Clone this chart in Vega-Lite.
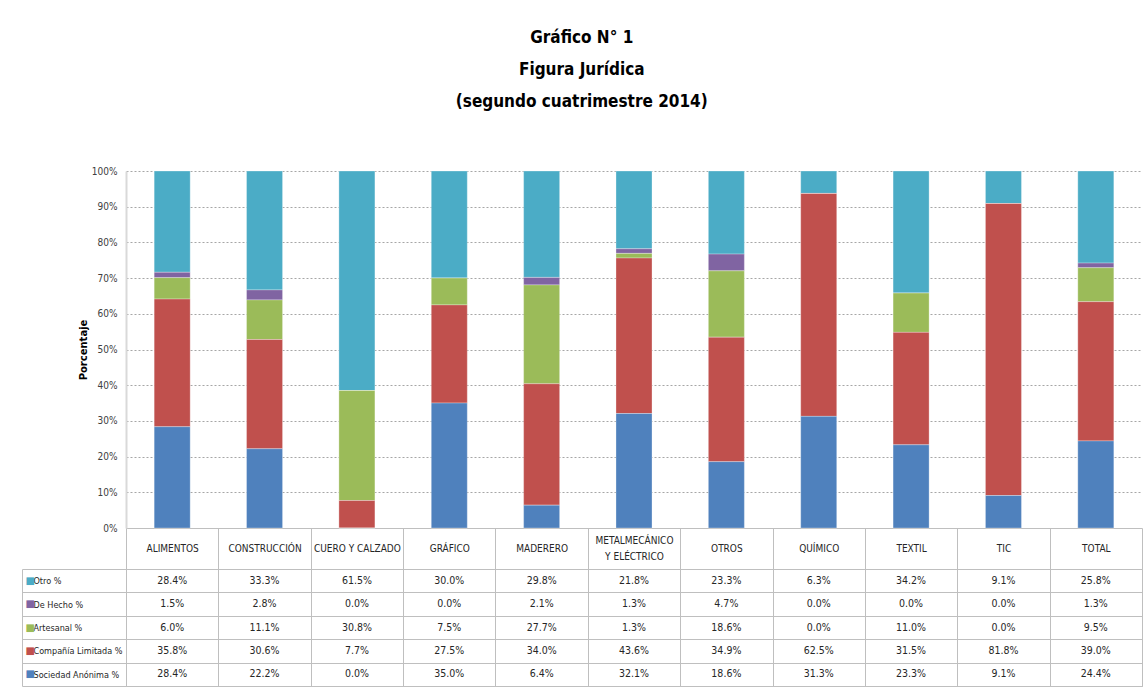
{
  "$schema": "https://vega.github.io/schema/vega-lite/v6.json",
  "padding": {"left": 21, "top": 29, "right": 6, "bottom": 0},
  "background": "white",
  "title": {
    "text": ["Gráfico N° 1", "Figura Jurídica", "(segundo cuatrimestre 2014)"],
    "fontSize": 17, "font": "DejaVu Sans Condensed, DejaVu Sans, sans-serif",
    "fontWeight": "bold", "color": "black", "lineHeight": 32, "anchor": "middle", "offset": 55
  },
  "config": {
    "font": "DejaVu Sans Condensed, DejaVu Sans, sans-serif"
  },
  "datasets": {
    "d": [
      {"sector": "ALIMENTOS", "serie": "Otro %", "valor": 0.284, "orden": 5},
      {"sector": "ALIMENTOS", "serie": "De Hecho %", "valor": 0.015, "orden": 4},
      {"sector": "ALIMENTOS", "serie": "Artesanal %", "valor": 0.060, "orden": 3},
      {"sector": "ALIMENTOS", "serie": "Compañía Limitada %", "valor": 0.358, "orden": 2},
      {"sector": "ALIMENTOS", "serie": "Sociedad Anónima %", "valor": 0.284, "orden": 1},
      {"sector": "CONSTRUCCIÓN", "serie": "Otro %", "valor": 0.333, "orden": 5},
      {"sector": "CONSTRUCCIÓN", "serie": "De Hecho %", "valor": 0.028, "orden": 4},
      {"sector": "CONSTRUCCIÓN", "serie": "Artesanal %", "valor": 0.111, "orden": 3},
      {"sector": "CONSTRUCCIÓN", "serie": "Compañía Limitada %", "valor": 0.306, "orden": 2},
      {"sector": "CONSTRUCCIÓN", "serie": "Sociedad Anónima %", "valor": 0.222, "orden": 1},
      {"sector": "CUERO Y CALZADO", "serie": "Otro %", "valor": 0.615, "orden": 5},
      {"sector": "CUERO Y CALZADO", "serie": "De Hecho %", "valor": 0.000, "orden": 4},
      {"sector": "CUERO Y CALZADO", "serie": "Artesanal %", "valor": 0.308, "orden": 3},
      {"sector": "CUERO Y CALZADO", "serie": "Compañía Limitada %", "valor": 0.077, "orden": 2},
      {"sector": "CUERO Y CALZADO", "serie": "Sociedad Anónima %", "valor": 0.000, "orden": 1},
      {"sector": "GRÁFICO", "serie": "Otro %", "valor": 0.300, "orden": 5},
      {"sector": "GRÁFICO", "serie": "De Hecho %", "valor": 0.000, "orden": 4},
      {"sector": "GRÁFICO", "serie": "Artesanal %", "valor": 0.075, "orden": 3},
      {"sector": "GRÁFICO", "serie": "Compañía Limitada %", "valor": 0.275, "orden": 2},
      {"sector": "GRÁFICO", "serie": "Sociedad Anónima %", "valor": 0.350, "orden": 1},
      {"sector": "MADERERO", "serie": "Otro %", "valor": 0.298, "orden": 5},
      {"sector": "MADERERO", "serie": "De Hecho %", "valor": 0.021, "orden": 4},
      {"sector": "MADERERO", "serie": "Artesanal %", "valor": 0.277, "orden": 3},
      {"sector": "MADERERO", "serie": "Compañía Limitada %", "valor": 0.340, "orden": 2},
      {"sector": "MADERERO", "serie": "Sociedad Anónima %", "valor": 0.064, "orden": 1},
      {"sector": "METALMECÁNICO Y ELÉCTRICO", "serie": "Otro %", "valor": 0.218, "orden": 5},
      {"sector": "METALMECÁNICO Y ELÉCTRICO", "serie": "De Hecho %", "valor": 0.013, "orden": 4},
      {"sector": "METALMECÁNICO Y ELÉCTRICO", "serie": "Artesanal %", "valor": 0.013, "orden": 3},
      {"sector": "METALMECÁNICO Y ELÉCTRICO", "serie": "Compañía Limitada %", "valor": 0.436, "orden": 2},
      {"sector": "METALMECÁNICO Y ELÉCTRICO", "serie": "Sociedad Anónima %", "valor": 0.321, "orden": 1},
      {"sector": "OTROS", "serie": "Otro %", "valor": 0.233, "orden": 5},
      {"sector": "OTROS", "serie": "De Hecho %", "valor": 0.047, "orden": 4},
      {"sector": "OTROS", "serie": "Artesanal %", "valor": 0.186, "orden": 3},
      {"sector": "OTROS", "serie": "Compañía Limitada %", "valor": 0.349, "orden": 2},
      {"sector": "OTROS", "serie": "Sociedad Anónima %", "valor": 0.186, "orden": 1},
      {"sector": "QUÍMICO", "serie": "Otro %", "valor": 0.063, "orden": 5},
      {"sector": "QUÍMICO", "serie": "De Hecho %", "valor": 0.000, "orden": 4},
      {"sector": "QUÍMICO", "serie": "Artesanal %", "valor": 0.000, "orden": 3},
      {"sector": "QUÍMICO", "serie": "Compañía Limitada %", "valor": 0.625, "orden": 2},
      {"sector": "QUÍMICO", "serie": "Sociedad Anónima %", "valor": 0.313, "orden": 1},
      {"sector": "TEXTIL", "serie": "Otro %", "valor": 0.342, "orden": 5},
      {"sector": "TEXTIL", "serie": "De Hecho %", "valor": 0.000, "orden": 4},
      {"sector": "TEXTIL", "serie": "Artesanal %", "valor": 0.110, "orden": 3},
      {"sector": "TEXTIL", "serie": "Compañía Limitada %", "valor": 0.315, "orden": 2},
      {"sector": "TEXTIL", "serie": "Sociedad Anónima %", "valor": 0.233, "orden": 1},
      {"sector": "TIC", "serie": "Otro %", "valor": 0.091, "orden": 5},
      {"sector": "TIC", "serie": "De Hecho %", "valor": 0.000, "orden": 4},
      {"sector": "TIC", "serie": "Artesanal %", "valor": 0.000, "orden": 3},
      {"sector": "TIC", "serie": "Compañía Limitada %", "valor": 0.818, "orden": 2},
      {"sector": "TIC", "serie": "Sociedad Anónima %", "valor": 0.091, "orden": 1},
      {"sector": "TOTAL", "serie": "Otro %", "valor": 0.258, "orden": 5},
      {"sector": "TOTAL", "serie": "De Hecho %", "valor": 0.013, "orden": 4},
      {"sector": "TOTAL", "serie": "Artesanal %", "valor": 0.095, "orden": 3},
      {"sector": "TOTAL", "serie": "Compañía Limitada %", "valor": 0.390, "orden": 2},
      {"sector": "TOTAL", "serie": "Sociedad Anónima %", "valor": 0.244, "orden": 1}
    ]
  },
  "bounds": "flush",
  "spacing": 41,
  "vconcat": [
    {
      "width": 1016,
      "height": 357,
      "view": {"stroke": null},
      "data": {"name": "d"},
      "mark": {"type": "bar", "width": {"band": 0.39}, "stroke": "white", "strokeWidth": 0.5, "strokeOpacity": 0.6},
      "encoding": {
        "x": {
          "field": "sector", "type": "nominal", "sort": null,
          "scale": {"paddingInner": 0, "paddingOuter": 0},
          "axis": {
            "title": null, "orient": "bottom", "tickBand": "extent", "tickSize": 41,
            "tickColor": "#bfbfbf", "domainColor": "#bfbfbf",
            "labelPadding": {"condition": {"test": "datum.value == 'METALMECÁNICO Y ELÉCTRICO'", "value": -29}, "value": -21},
            "labelBaseline": "middle", "labelFontSize": 10, "labelColor": "#262626",
            "labelLimit": 300, "labelAngle": 0, "labelLineHeight": 16, "grid": false,
            "labelExpr": "datum.label == 'METALMECÁNICO Y ELÉCTRICO' ? ['METALMECÁNICO', 'Y ELÉCTRICO'] : datum.label"
          }
        },
        "y": {
          "field": "valor", "type": "quantitative", "stack": "normalize",
          "scale": {"domain": [0, 1]},
          "axis": {
            "title": "Porcentaje", "titleFontSize": 10, "titleFontWeight": "bold", "titleColor": "black",
            "titleFont": "DejaVu Sans", "titlePadding": 3, "format": "%",
            "values": [0, 0.1, 0.2, 0.3, 0.4, 0.5, 0.6, 0.7, 0.8, 0.9, 1],
            "labelFontSize": 10, "labelColor": "#404040", "labelPadding": 9, "ticks": false,
            "domainColor": "#d9d9d9", "domainWidth": 2,
            "gridColor": "#a6a6a6", "gridDash": [2, 2], "gridWidth": 1
          }
        },
        "color": {
          "field": "serie", "type": "nominal",
          "scale": {
            "domain": ["Otro %", "De Hecho %", "Artesanal %", "Compañía Limitada %", "Sociedad Anónima %"],
            "range": ["#4BACC6", "#8064A2", "#9BBB59", "#C0504D", "#4F81BD"]
          },
          "legend": null
        },
        "order": {"field": "orden", "type": "quantitative"}
      }
    },
    {
      "width": 1016,
      "height": 117,
      "view": {"stroke": "#bfbfbf"},
      "data": {"name": "d"},
      "layer": [
        {
          "mark": {"type": "text", "fontSize": 10.5, "color": "#262626"},
          "encoding": {
            "x": {
              "field": "sector", "type": "nominal", "sort": null,
              "scale": {"paddingInner": 0, "paddingOuter": 0},
              "axis": {"title": null, "labels": false, "ticks": false, "domain": false, "grid": true, "tickBand": "extent", "gridColor": "#bfbfbf"}
            },
            "y": {
              "field": "serie", "type": "nominal",
              "scale": {"domain": ["Otro %", "De Hecho %", "Artesanal %", "Compañía Limitada %", "Sociedad Anónima %"], "paddingInner": 0, "paddingOuter": 0},
              "axis": {
                "orient": "left", "title": null, "domain": false, "tickBand": "extent", "tickSize": 104,
                "tickColor": "#bfbfbf", "grid": true, "gridColor": "#bfbfbf", "labelAlign": "left",
                "labelPadding": -11, "labelBaseline": "middle", "labelFontSize": 9, "labelColor": "#262626", "labelLimit": 200
              }
            },
            "text": {"field": "valor", "type": "quantitative", "format": ".1%"}
          }
        },
        {
          "mark": {"type": "text", "opacity": 0},
          "encoding": {
            "y": {
              "field": "serie", "type": "nominal",
              "axis": {
                "orient": "left", "offset": 104, "title": null, "domain": true, "domainColor": "#bfbfbf",
                "ticks": false, "grid": false, "labelAlign": "left", "labelPadding": -3, "labelBaseline": "middle",
                "labelFontSize": 10, "labelFont": "DejaVu Sans",
                "labelExpr": "'■'",
                "labelColor": {
                  "condition": [
                    {"test": "datum.value === 'Otro %'", "value": "#4BACC6"},
                    {"test": "datum.value === 'De Hecho %'", "value": "#8064A2"},
                    {"test": "datum.value === 'Artesanal %'", "value": "#9BBB59"},
                    {"test": "datum.value === 'Compañía Limitada %'", "value": "#C0504D"}
                  ],
                  "value": "#4F81BD"
                }
              }
            },
            "text": {"value": ""}
          }
        }
      ],
      "resolve": {"axis": {"y": "independent"}}
    }
  ]
}
